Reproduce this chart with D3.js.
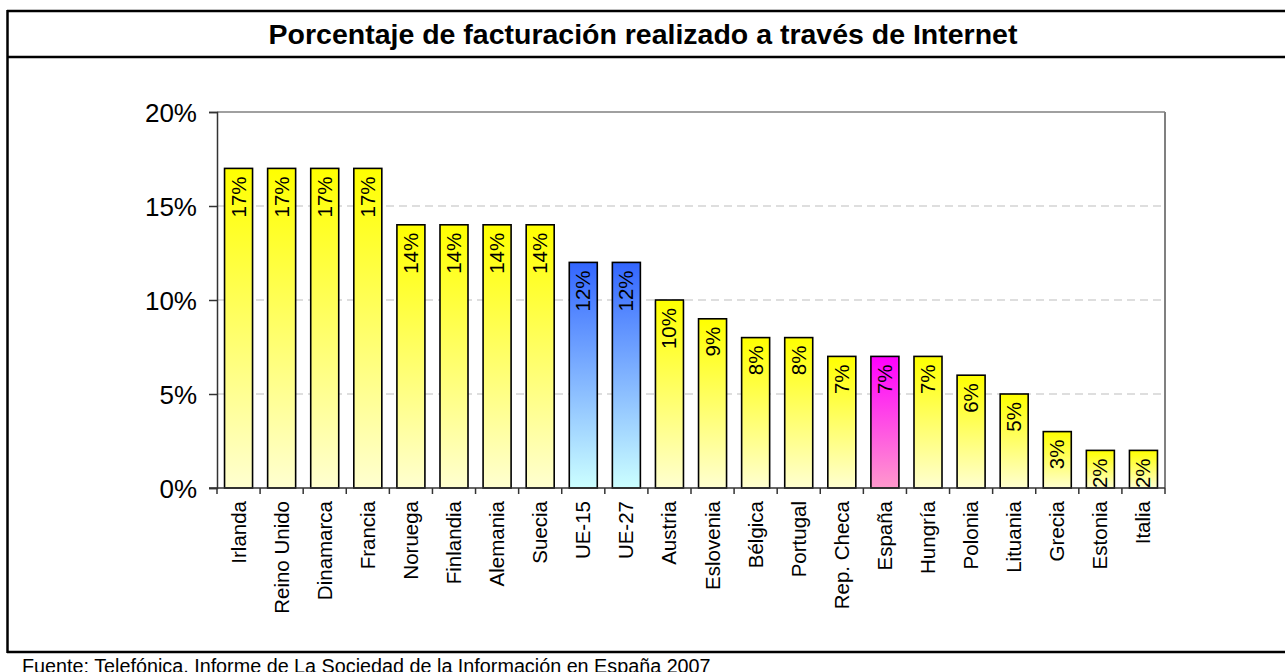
<!DOCTYPE html>
<html><head><meta charset="utf-8">
<script src="https://cdn.jsdelivr.net/npm/d3@7"></script>
<style>html,body{margin:0;padding:0;background:#fff;overflow:hidden}svg{display:block}</style>
</head><body>
<svg id="c" width="1285" height="672"></svg>
<script>
const title = "Porcentaje de facturación realizado a través de Internet";
const source = "Fuente: Telefónica, Informe de La Sociedad de la Información en España 2007";
const categories = ["Irlanda","Reino Unido","Dinamarca","Francia","Noruega","Finlandia","Alemania","Suecia","UE-15","UE-27","Austria","Eslovenia","Bélgica","Portugal","Rep. Checa","España","Hungría","Polonia","Lituania","Grecia","Estonia","Italia"];
const values = [17,17,17,17,14,14,14,14,12,12,10,9,8,8,7,7,7,6,5,3,2,2];
const groups = ["c","c","c","c","c","c","c","c","eu","eu","c","c","c","c","c","es","c","c","c","c","c","c"];
const yTicks = [0,5,10,15,20];

const FONT = "Arial, 'Liberation Sans', sans-serif";
const svg = d3.select("#c");
const defs = svg.append("defs");
const grads = {c:["#ffff00","#ffffd0"], eu:["#3366ff","#ccffff"], es:["#ff00ff","#ff99cc"]};
Object.entries(grads).forEach(([k,[a,b]])=>{
  const g = defs.append("linearGradient").attr("id","g-"+k).attr("x1",0).attr("y1",0).attr("x2",0).attr("y2",1);
  g.append("stop").attr("offset","0%").attr("stop-color",a);
  g.append("stop").attr("offset","100%").attr("stop-color",b);
});

// outer frame
svg.append("line").attr("x1",7).attr("x2",1290).attr("y1",11).attr("y2",11).attr("stroke","#000").attr("stroke-width",2.5);
svg.append("line").attr("x1",7).attr("x2",1290).attr("y1",57).attr("y2",57).attr("stroke","#000").attr("stroke-width",2.5);
svg.append("line").attr("x1",7).attr("x2",1290).attr("y1",652).attr("y2",652).attr("stroke","#000").attr("stroke-width",2.5);
svg.append("line").attr("x1",7.5).attr("x2",7.5).attr("y1",10).attr("y2",653).attr("stroke","#000").attr("stroke-width",2.5);

function fitText(sel, w){
  const L = sel.node().getComputedTextLength();
  const fs = parseFloat(sel.attr("font-size"));
  sel.attr("font-size", fs*w/L);
}
const t = svg.append("text").attr("x",643).attr("y",44).attr("text-anchor","middle")
  .attr("font-family",FONT).attr("font-weight","bold").attr("font-size",24).text(title);
fitText(t, 749);
const f = svg.append("text").attr("x",22).attr("y",673)
  .attr("font-family",FONT).attr("font-size",18).text(source);
fitText(f, 689);

const L = 217, R = 1165, T = 112, B = 488;
const x = d3.scaleBand().domain(categories).range([L,R]).paddingInner(0.35).paddingOuter(0.175);
const xb = d3.scaleBand().domain(categories).range([L,R]);
const y = d3.scaleLinear().domain([0,20]).range([B,T]);

// grid
svg.append("g").selectAll("line").data(yTicks.filter(v=>v>0&&v<20)).join("line")
  .attr("x1",L).attr("x2",R).attr("y1",d=>y(d)).attr("y2",d=>y(d))
  .attr("stroke","#d4d4d4").attr("stroke-width",1.5).attr("stroke-dasharray","8,5");
// plot frame top/right
svg.append("line").attr("x1",L).attr("x2",R).attr("y1",y(20)).attr("y2",y(20)).attr("stroke","#808080").attr("stroke-width",1.5);
svg.append("line").attr("x1",R).attr("x2",R).attr("y1",T).attr("y2",B).attr("stroke","#808080").attr("stroke-width",2);

// bars
svg.append("g").selectAll("rect").data(categories).join("rect")
  .attr("x",d=>x(d)).attr("width",x.bandwidth())
  .attr("y",(d,i)=>y(values[i])).attr("height",(d,i)=>B-y(values[i]))
  .attr("fill",(d,i)=>"url(#g-"+groups[i]+")").attr("stroke","#000").attr("stroke-width",1.6);

// bar labels
svg.append("g").selectAll("text").data(categories).join("text")
  .attr("transform",(d,i)=>`translate(${x(d)+x.bandwidth()/2+7},${y(values[i])+8}) rotate(-90)`)
  .attr("text-anchor","end").attr("font-family",FONT).attr("font-size",20.5).attr("fill","#000")
  .text((d,i)=>values[i]+"%");

// y axis
const ya = svg.append("g").attr("transform",`translate(${L},0)`)
  .call(d3.axisLeft(y).tickValues(yTicks).tickSize(8).tickFormat(d=>d+"%"));
ya.select(".domain").attr("stroke","#333").attr("stroke-width",1.5);
ya.selectAll(".tick line").attr("stroke","#333").attr("stroke-width",1.5);
ya.selectAll(".tick text").attr("font-family",FONT).attr("font-size",26).attr("fill","#000").attr("x",-20).attr("dy","0.35em");

// x axis baseline and ticks at band boundaries
svg.append("line").attr("x1",L-8).attr("x2",R).attr("y1",B).attr("y2",B).attr("stroke","#333").attr("stroke-width",1.5);
const bounds = categories.map(c=>xb(c)).concat([R]);
svg.append("g").selectAll("line").data(bounds).join("line")
  .attr("x1",d=>d).attr("x2",d=>d).attr("y1",B).attr("y2",B+6).attr("stroke","#333").attr("stroke-width",1.5);

// x labels
svg.append("g").selectAll("text").data(categories).join("text")
  .attr("transform",d=>`translate(${xb(d)+xb.bandwidth()/2+7},${B+13}) rotate(-90)`)
  .attr("text-anchor","end").attr("font-family",FONT).attr("font-size",20.5).attr("fill","#000")
  .text(d=>d);
</script>
</body></html>
